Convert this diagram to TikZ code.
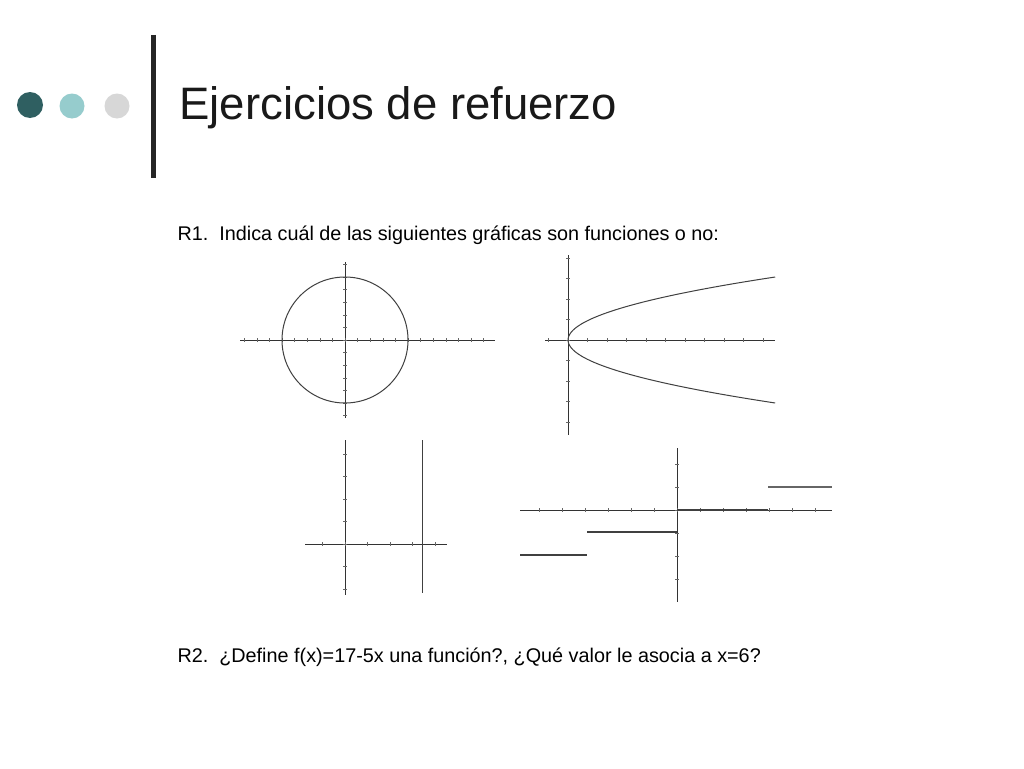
\documentclass[tikz,border=0pt]{standalone}
\usepackage{fontspec}
\setmainfont{Liberation Sans}
\begin{document}
\begin{tikzpicture}[x=1pt,y=-1pt,
  ax/.style={line width=0.8pt,black!80},
  crv/.style={line width=1pt,black!75},
  tk/.style={line width=0.4pt,black!60}]
\useasboundingbox (0,0) rectangle (1024,768);
\fill[white] (0,0) rectangle (1024,768);
% decorations
\fill[fill={rgb,255:red,47;green,95;blue,97}] (30,105) circle (13) coordinate (c1);
\fill[fill={rgb,255:red,150;green,204;blue,205}] (72,106) circle (12.5) coordinate (c2);
\fill[fill={rgb,255:red,215;green,215;blue,215}] (117,106) circle (12.5) coordinate (c3);
\draw[line width=5pt,black!85] (153,35) coordinate (v1) -- (153,178) coordinate (v2);
\node[anchor=west,font=\fontsize{45.5}{50}\selectfont,text=black!90] (title) at (176,108) {Ejercicios de refuerzo};
\node[anchor=west,font=\fontsize{19.8}{22}\selectfont] (r1) at (174,235) {R1.\ \ Indica cuál de las siguientes gráficas son funciones o no:};
\node[anchor=west,font=\fontsize{19.8}{22}\selectfont] (r2) at (174,657) {R2.\ \ ¿Define f(x)=17-5x una función?, ¿Qué valor le asocia a x=6?};
% graph 1
\draw[ax] (240,340) -- (495,340);
\draw[ax] (345,262) -- (345,418);
\foreach \i in {-8,...,11} \draw[tk] (345+12.6*\i,338) -- (345+12.6*\i,342);
\foreach \i in {-6,...,6} \draw[tk] (343,340+12.6*\i) -- (347,340+12.6*\i);
\draw[crv] (345,340) circle (63);
% graph 2
\draw[ax] (545,340) -- (775,340);
\draw[ax] (568,255) -- (568,435);
\foreach \i in {-1,...,10} \draw[tk] (568+19.5*\i,338) -- (568+19.5*\i,342);
\foreach \i in {-4,...,4} \draw[tk] (566,340+20.5*\i) -- (570,340+20.5*\i);
\draw[crv,domain=-63:63,samples=60,smooth] plot ({568+0.0522*\x*\x},{340+\x});
% graph 3
\draw[ax] (305,544) -- (447,544);
\draw[ax] (345,440) -- (345,595);
\foreach \i in {-1,...,4} \draw[tk] (345+22.5*\i,542) -- (345+22.5*\i,546);
\foreach \i in {-2,...,4} \draw[tk] (343,544-22.5*\i) -- (347,544-22.5*\i);
\draw[crv] (422,440) -- (422,593);
% graph 4
\draw[ax] (520,510) -- (832,510);
\draw[ax] (677,448) -- (677,602);
\foreach \i in {-6,...,6} \draw[tk] (677+23*\i,508) -- (677+23*\i,512);
\foreach \i in {-3,...,2} \draw[tk] (675,510-23*\i) -- (679,510-23*\i);
\draw[crv,line width=1.3pt] (520,555) -- (587,555);
\draw[crv,line width=1.3pt] (587,532) -- (677,532);
\draw[crv,line width=1.3pt] (677,510) -- (768,510);
\draw[crv,line width=1.3pt,black!60] (768,487) -- (832,487);
\end{tikzpicture}
\end{document}
